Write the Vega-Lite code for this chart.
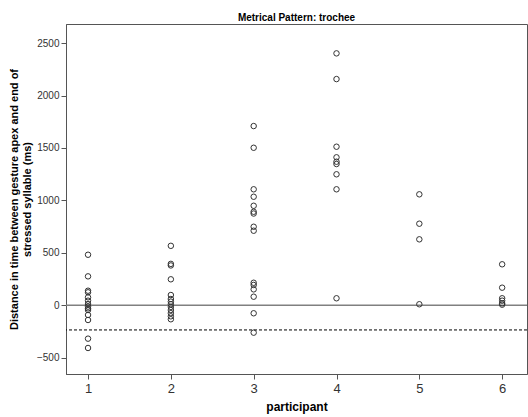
{
  "$schema": "https://vega.github.io/schema/vega-lite/v6.json",
  "width": 461,
  "height": 350,
  "autosize": "none",
  "padding": {"left": 66, "top": 24, "right": 1, "bottom": 43},
  "background": "white",
  "config": {
    "view": {"stroke": "#555555", "strokeWidth": 1},
    "font": "Liberation Sans"
  },
  "title": {"text": "Metrical Pattern: trochee", "fontSize": 10, "fontWeight": "bold", "font": "Liberation Sans", "color": "#000000", "offset": 1},
  "datasets": {
    "points": [
      {"participant": 1, "distance": 482}, {"participant": 1, "distance": 276}, {"participant": 1, "distance": 139},
      {"participant": 1, "distance": 124}, {"participant": 1, "distance": 76}, {"participant": 1, "distance": 44},
      {"participant": 1, "distance": 12}, {"participant": 1, "distance": -13}, {"participant": 1, "distance": -29},
      {"participant": 1, "distance": -45}, {"participant": 1, "distance": -92}, {"participant": 1, "distance": -140},
      {"participant": 1, "distance": -318}, {"participant": 1, "distance": -407},
      {"participant": 2, "distance": 567}, {"participant": 2, "distance": 395}, {"participant": 2, "distance": 380},
      {"participant": 2, "distance": 248}, {"participant": 2, "distance": 98}, {"participant": 2, "distance": 60},
      {"participant": 2, "distance": 35}, {"participant": 2, "distance": 10}, {"participant": 2, "distance": -15},
      {"participant": 2, "distance": -45}, {"participant": 2, "distance": -75}, {"participant": 2, "distance": -105},
      {"participant": 2, "distance": -133},
      {"participant": 3, "distance": 1709}, {"participant": 3, "distance": 1502}, {"participant": 3, "distance": 1106},
      {"participant": 3, "distance": 1035}, {"participant": 3, "distance": 949}, {"participant": 3, "distance": 892},
      {"participant": 3, "distance": 875}, {"participant": 3, "distance": 749}, {"participant": 3, "distance": 711},
      {"participant": 3, "distance": 215}, {"participant": 3, "distance": 194}, {"participant": 3, "distance": 152},
      {"participant": 3, "distance": 82}, {"participant": 3, "distance": -76}, {"participant": 3, "distance": -261},
      {"participant": 4, "distance": 2402}, {"participant": 4, "distance": 2157}, {"participant": 4, "distance": 1512},
      {"participant": 4, "distance": 1411}, {"participant": 4, "distance": 1369}, {"participant": 4, "distance": 1347},
      {"participant": 4, "distance": 1249}, {"participant": 4, "distance": 1106}, {"participant": 4, "distance": 67},
      {"participant": 5, "distance": 1058}, {"participant": 5, "distance": 778}, {"participant": 5, "distance": 629},
      {"participant": 5, "distance": 10},
      {"participant": 6, "distance": 391}, {"participant": 6, "distance": 168}, {"participant": 6, "distance": 67},
      {"participant": 6, "distance": 44}, {"participant": 6, "distance": 19}, {"participant": 6, "distance": 6}
    ],
    "zero": [{"value": 0}],
    "ref": [{"value": -235}]
  },
  "layer": [
    {
      "data": {"name": "zero"},
      "mark": {"type": "rule", "color": "#808080", "strokeWidth": 1.5},
      "encoding": {"y": {"field": "value", "type": "quantitative", "scale": {"domain": [-655, 2682], "nice": false, "zero": false}}}
    },
    {
      "data": {"name": "ref"},
      "mark": {"type": "rule", "color": "#000000", "strokeWidth": 1, "strokeDash": [3, 2]},
      "encoding": {"y": {"field": "value", "type": "quantitative"}}
    },
    {
      "data": {"name": "points"},
      "mark": {"type": "point", "shape": "circle", "filled": false, "stroke": "#333333", "strokeWidth": 1, "size": 30, "opacity": 1},
      "encoding": {
        "x": {
          "field": "participant", "type": "quantitative",
          "scale": {"domain": [0.734, 6.3], "nice": false, "zero": false},
          "axis": {
            "values": [1, 2, 3, 4, 5, 6], "format": "d", "grid": false, "title": "participant",
            "titleFontSize": 12, "titleFontWeight": "bold", "titleColor": "#000000", "titlePadding": 6,
            "labelFontSize": 13, "labelColor": "#333333", "labelPadding": 3,
            "tickSize": 5, "tickColor": "#555555", "domainColor": "#555555"
          }
        },
        "y": {
          "field": "distance", "type": "quantitative",
          "axis": {
            "values": [-500, 0, 500, 1000, 1500, 2000, 2500], "format": "d", "grid": false,
            "title": ["Distance in time between gesture apex and end of", "stressed syllable (ms)"],
            "titleFontSize": 11, "titleFontWeight": "bold", "titleColor": "#000000", "titlePadding": 4,
            "labelFontSize": 10, "labelColor": "#333333", "labelPadding": 2,
            "tickSize": 5, "tickColor": "#555555", "domainColor": "#555555"
          }
        }
      }
    }
  ]
}
